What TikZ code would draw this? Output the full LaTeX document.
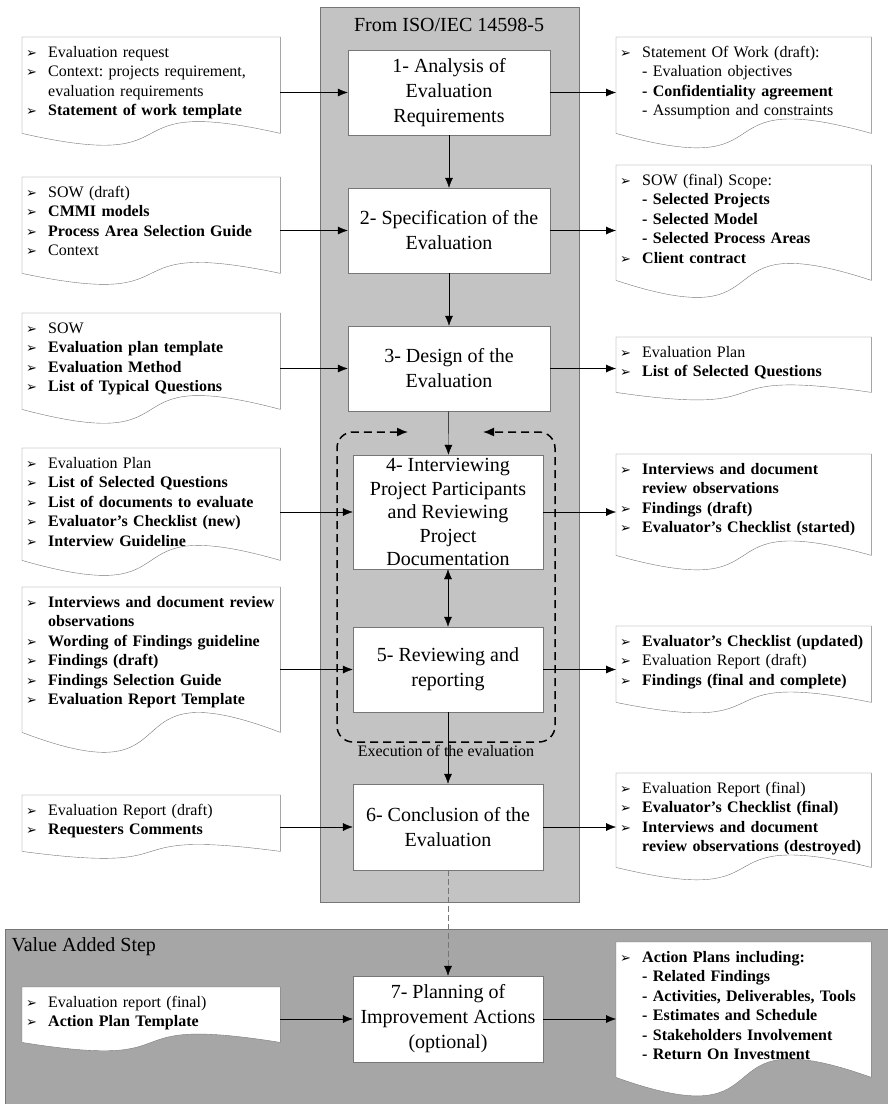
\documentclass[tikz,border=0pt]{standalone}
\usepackage{fontspec}
\setmainfont{Liberation Serif}
\newfontfamily\bulfont{DejaVu Sans}
\usetikzlibrary{arrows.meta,calc}
\pgfdeclarelayer{back}
\pgfdeclarelayer{paper}
\pgfsetlayers{back,paper,main}
\definecolor{isogray}{RGB}{195,195,195}
\definecolor{addgray}{RGB}{166,166,166}
\definecolor{edgegray}{RGB}{118,118,118}
\frenchspacing
\newcommand{\bl}{\makebox[22pt][l]{\bulfont\fontsize{13}{13}\selectfont ➢}}
\newcommand{\ind}{\hspace*{22pt}}
% document outline with a wavy bottom
\newcommand{\docshape}[2]{\filldraw[fill=white,draw=edgegray] (#1.north west) -- (#1.north east) -- (#1.south east)
  .. controls ($(#1.south west)!0.3!(#1.south east)+(0,-#2)$) and ($(#1.south west)!0.7!(#1.south east)+(0,#2)$) .. (#1.south west) -- cycle;}
\begin{document}
\begin{tikzpicture}[x=1pt,y=-1pt,
  stepbox/.style={draw=edgegray,fill=white,align=center,font=\fontsize{20}{25}\selectfont,inner sep=1pt},
  docbox/.style={anchor=north west,align=left,font=\fontsize{16}{19.5}\selectfont,inner xsep=4pt,inner ysep=7pt,text height=13pt},
  indoc/.style={docbox,text width=250pt},
  outdoc/.style={docbox,text width=247pt},
  arr/.style={-{Latex[length=10pt,width=8pt]}}]
\useasboundingbox (0,0) rectangle (888,1104);

% panels
\begin{pgfonlayer}{back}
\filldraw[fill=isogray,draw=edgegray] (320,7) rectangle (579,902);
\filldraw[fill=addgray,draw=edgegray] (5,929) rectangle (895,1112);
\end{pgfonlayer}
\node (iso) at (449,25) {\fontsize{20}{24}\selectfont From ISO/IEC 14598-5};
\node[anchor=west] (vas) at (8,947) {\fontsize{20}{24}\selectfont Value Added Step};

% steps
\node[stepbox,minimum width=202pt,minimum height=85pt] (s1) at (449,92.5) {1- Analysis of\\Evaluation\\Requirements};
\node[stepbox,minimum width=202pt,minimum height=85pt] (s2) at (449,230.5) {2- Specification of the\\Evaluation};
\node[stepbox,minimum width=202pt,minimum height=85pt] (s3) at (449,368.5) {3- Design of the\\Evaluation};
\node[stepbox,minimum width=190pt,minimum height=114pt,font=\fontsize{20}{23.5}\selectfont] (s4) at (448,512) {4- Interviewing\\Project Participants\\and Reviewing\\Project\\Documentation};
\node[stepbox,minimum width=190pt,minimum height=85pt] (s5) at (448,669.5) {5- Reviewing and\\reporting};
\node[stepbox,minimum width=190pt,minimum height=86pt] (s6) at (448,827) {6- Conclusion of the\\Evaluation};
\node[stepbox,minimum width=190pt,minimum height=86pt] (s7) at (448,1019) {7- Planning of\\Improvement Actions\\(optional)};
\node (exec) at (446,751) {\fontsize{16}{19}\selectfont Execution of the evaluation};

% inputs
\node[indoc,text depth=69pt] (in1) at (22,37) {\bl Evaluation request\\ \bl Context: projects requirement,\\ \ind evaluation requirements\\ \bl\textbf{Statement of work template}};
\node[indoc,text depth=69pt] (in2) at (22,177) {\bl SOW (draft)\\ \bl\textbf{CMMI models}\\ \bl\textbf{Process Area Selection Guide}\\ \bl Context};
\node[indoc,text depth=69pt] (in3) at (22,313) {\bl SOW\\ \bl\textbf{Evaluation plan template}\\ \bl\textbf{Evaluation Method}\\ \bl\textbf{List of Typical Questions}};
\node[indoc,text depth=85pt] (in4) at (22,448) {\bl Evaluation Plan\\ \bl\textbf{List of Selected Questions}\\ \bl\textbf{List of documents to evaluate}\\ \bl\textbf{Evaluator’s Checklist (new)}\\ \bl\textbf{Interview Guideline}};
\node[indoc,text depth=118pt] (in5) at (22,587) {\bl\mbox{\textbf{Interviews and document review}}\\ \ind\textbf{observations}\\ \bl\textbf{Wording of Findings guideline}\\ \bl\textbf{Findings (draft)}\\ \bl\textbf{Findings Selection Guide}\\ \bl\textbf{Evaluation Report Template}};
\node[indoc,text depth=29pt] (in6) at (22,795) {\bl Evaluation Report (draft)\\ \bl\textbf{Requesters Comments}};
\node[indoc,text depth=28pt] (in7) at (22,987) {\bl Evaluation report (final)\\ \bl\textbf{Action Plan Template}};

% outputs
\node[outdoc,text depth=69pt] (out1) at (616,37) {\bl Statement Of Work (draft):\\ \ind- Evaluation objectives\\ \ind\textbf{- Confidentiality agreement}\\ \ind- Assumption and constraints};
\node[outdoc,text depth=88pt] (out2) at (616,165) {\bl SOW (final) Scope:\\ \ind\textbf{- Selected Projects}\\ \ind\textbf{- Selected Model}\\ \ind\textbf{- Selected Process Areas}\\ \bl\textbf{Client contract}};
\node[outdoc,text depth=28pt] (out3) at (616,337) {\bl Evaluation Plan\\ \bl\textbf{List of Selected Questions}};
\node[outdoc,text depth=74pt] (out4) at (616,454) {\bl\textbf{Interviews and document}\\ \ind\textbf{review observations}\\ \bl\textbf{Findings (draft)}\\ \bl\textbf{Evaluator’s Checklist (started)}};
\node[outdoc,text depth=49pt] (out5) at (616,626) {\bl\textbf{Evaluator’s Checklist (updated)}\\ \bl Evaluation Report (draft)\\ \bl\textbf{Findings (final and complete)}};
\node[outdoc,text depth=67pt] (out6) at (616,773) {\bl Evaluation Report (final)\\ \bl\textbf{Evaluator’s Checklist (final)}\\ \bl\textbf{Interviews and document}\\ \ind\textbf{review observations (destroyed)}};
\node[outdoc,text depth=108pt] (out7) at (616,942) {\bl\textbf{Action Plans including:}\\ \ind\textbf{- Related Findings}\\ \ind\textbf{- Activities, Deliverables, Tools}\\ \ind\textbf{- Estimates and Schedule}\\ \ind\textbf{- Stakeholders Involvement}\\ \ind\textbf{- Return On Investment}};

\begin{pgfonlayer}{paper}
\foreach \d/\c in {in1/41,in2/38,in3/48,in4/52,in5/69,in6/24,in7/29,out1/50,out2/59,out3/26,out4/50,out5/36,out6/43,out7/64}
  {\docshape{\d}{\c}}
\end{pgfonlayer}

% execution loop
\coordinate (loopl) at (408,432);
\coordinate (loopr) at (483,432);
\draw[line width=1.5pt,dash pattern=on 8pt off 5pt,rounded corners=16pt,{Latex[length=11pt,width=9pt]}-{Latex[length=11pt,width=9pt]}] (loopl) -- (337,432) -- (337,742) -- (555,742) -- (555,432) -- (loopr);

% flow
\draw[arr] (s1) -- (s2);
\draw[arr] (s2) -- (s3);
\draw[arr] (s3) -- (s4);
\draw[{Latex[length=10pt,width=8pt]}-{Latex[length=10pt,width=8pt]}] (s4) -- (s5);
\draw[arr] (s5) -- (s6);
\draw[-{Latex[length=10pt,width=8pt,black]},dash pattern=on 6pt off 3pt,draw=edgegray] (s6) -- (s7);

\foreach \i in {1,...,7} {
  \draw[arr] (in\i.east |- s\i.west) -- (s\i.west);
  \draw[arr] (s\i.east) -- (out\i.west |- s\i.east);
}
\end{tikzpicture}
\end{document}
